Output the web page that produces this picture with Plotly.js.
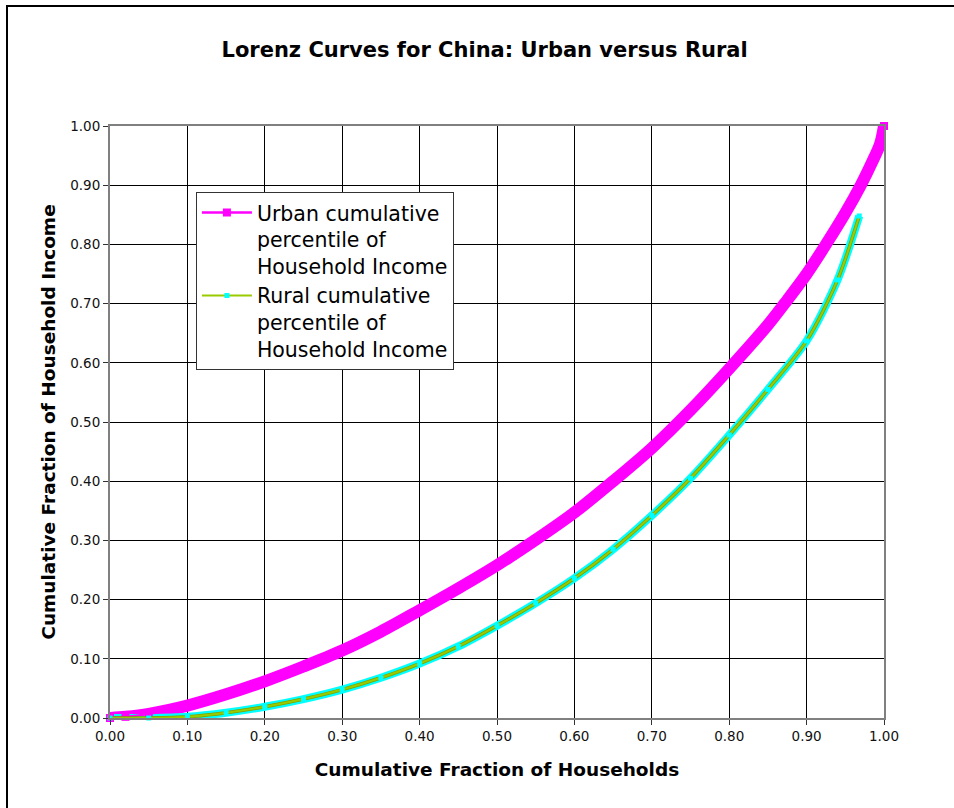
<!DOCTYPE html>
<html>
<head>
<meta charset="utf-8">
<script src="https://cdn.plot.ly/plotly-3.0.1.min.js"></script>
<style>html,body{margin:0;padding:0;background:#fff;}#chart{width:954px;height:808px;}</style>
</head>
<body>
<div id="chart"></div>
<script>
// Urban Lorenz curve
const urbanX = [0, 0.02, 0.05, 0.10, 0.15, 0.20, 0.25, 0.30, 0.35, 0.40, 0.45, 0.50, 0.55, 0.60, 0.65, 0.70, 0.75, 0.80, 0.85, 0.875, 0.90, 0.925, 0.95, 0.97, 0.985, 0.995, 1.00];
const urbanY = [0, 0.002, 0.007, 0.021, 0.040, 0.062, 0.087, 0.114, 0.146, 0.182, 0.219, 0.258, 0.301, 0.347, 0.400, 0.456, 0.520, 0.590, 0.664, 0.706, 0.750, 0.800, 0.853, 0.900, 0.940, 0.970, 1.000];
// Rural Lorenz curve
const ruralX = [0, 0.05, 0.10, 0.15, 0.20, 0.25, 0.30, 0.35, 0.40, 0.45, 0.50, 0.55, 0.60, 0.65, 0.70, 0.75, 0.80, 0.85, 0.90, 0.94, 0.968];
const ruralY = [0, 0.000, 0.002, 0.009, 0.019, 0.032, 0.048, 0.068, 0.092, 0.121, 0.156, 0.194, 0.236, 0.285, 0.342, 0.405, 0.478, 0.555, 0.637, 0.740, 0.848];
const tickVals = [0, 0.1, 0.2, 0.3, 0.4, 0.5, 0.6, 0.7, 0.8, 0.9, 1.0];
const tickText = ["0.00","0.10","0.20","0.30","0.40","0.50","0.60","0.70","0.80","0.90","1.00"];
const urbanName = "Urban cumulative<br>percentile of<br>Household Income";
const ruralName = "Rural cumulative<br>percentile of<br>Household Income";
const titleText = "Lorenz Curves for China: Urban versus Rural";
const xTitle = "Cumulative Fraction of Households";
const yTitle = "Cumulative Fraction of Household Income";

const FONT = "DejaVu Sans, Verdana, sans-serif";

const traces = [
  {x: urbanX, y: urbanY, mode: 'lines', line: {color: '#FF00FF', width: 12, shape: 'spline', smoothing: 0.9}, showlegend: false, hoverinfo: 'skip', cliponaxis: false},
  {x: ruralX, y: ruralY, mode: 'lines', line: {color: '#00FFFF', width: 8, shape: 'spline', smoothing: 0.8}, showlegend: false, hoverinfo: 'skip', cliponaxis: false},
  {x: urbanX, y: urbanY, name: urbanName, mode: 'lines+markers', line: {color: '#FF00FF', width: 2.5, shape: 'spline', smoothing: 0.9},
   marker: {symbol: 'square', size: 8, color: '#FF00FF'}, cliponaxis: false},
  {x: ruralX, y: ruralY, name: ruralName, mode: 'lines', line: {color: '#7FA000', width: 3.5, shape: 'spline', smoothing: 0.8},
   showlegend: false, hoverinfo: 'skip', cliponaxis: false},
  {x: ruralX, y: ruralY, name: ruralName, mode: 'lines+markers', line: {color: '#99CC00', width: 2, shape: 'spline', smoothing: 0.8},
   marker: {symbol: 'square', size: 5, color: '#00FFFF'}, cliponaxis: false}
];

const axisCommon = {
  range: [0, 1], tickvals: tickVals, ticktext: tickText,
  showgrid: true, gridcolor: '#000000', gridwidth: 1,
  showline: true, linecolor: '#808080', linewidth: 2, mirror: true,
  ticks: 'outside', ticklen: 5, tickcolor: '#333333', tickwidth: 1,
  tickfont: {family: FONT, size: 13.5, color: '#111111'},
  zeroline: false, fixedrange: true
};

const layout = {
  width: 954, height: 808,
  margin: {l: 110, r: 70, t: 126, b: 90},
  paper_bgcolor: '#ffffff', plot_bgcolor: '#ffffff',
  title: {text: '<b>' + titleText + '</b>', x: 0.508, xref: 'container', xanchor: 'center',
          y: 1 - 50/808, yref: 'container', yanchor: 'middle',
          font: {family: FONT, size: 21, color: '#000'}},
  xaxis: Object.assign({}, axisCommon, {
    title: {text: '<b>' + xTitle + '</b>', font: {family: FONT, size: 18.5, color: '#000'}, standoff: 20}
  }),
  yaxis: Object.assign({}, axisCommon, {
    title: {text: '<b>' + yTitle + '</b>', font: {family: FONT, size: 18.5, color: '#000'}, standoff: 10}
  }),
  legend: {
    x: 0.111, y: 0.889, xanchor: 'left', yanchor: 'top',
    bgcolor: '#ffffff', bordercolor: '#333333', borderwidth: 1,
    font: {family: FONT, size: 20.5, color: '#000'},
    itemwidth: 50, valign: 'top', tracegroupgap: 0
  },
  shapes: [
    {type: 'rect', xref: 'paper', yref: 'paper', x0: (7-110)/774, x1: 1.3, y0: -0.4, y1: (718-6)/592,
     line: {color: '#000000', width: 2}, fillcolor: 'rgba(0,0,0,0)', layer: 'above'}
  ]
};

Plotly.newPlot('chart', traces, layout, {displayModeBar: false, staticPlot: true});
</script>
</body>
</html>
